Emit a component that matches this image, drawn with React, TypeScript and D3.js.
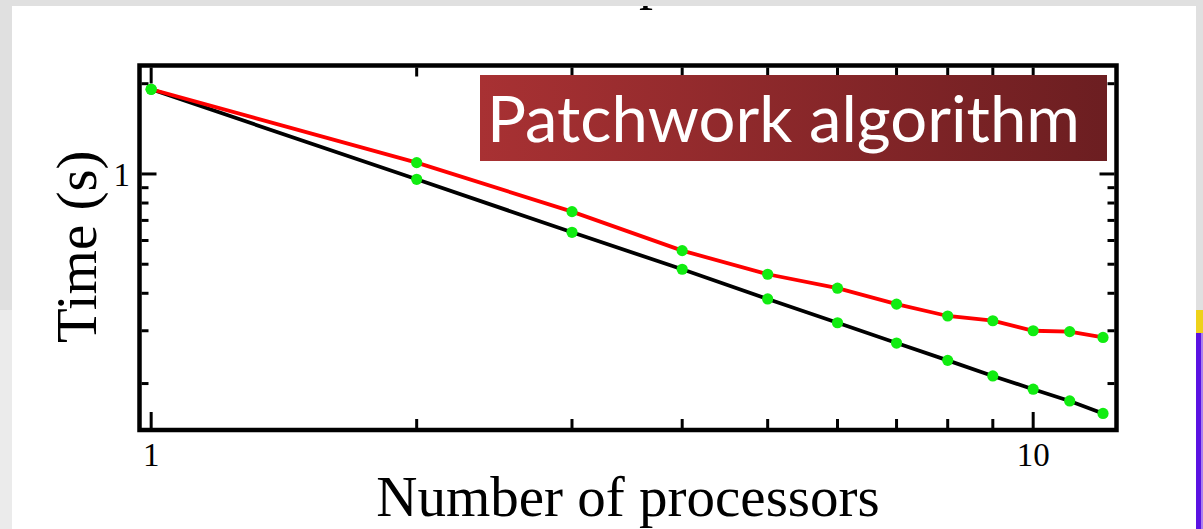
import React from "react";
import * as d3 from "d3";

// Number of processors used in each run
const processors = [1, 2, 3, 4, 5, 6, 7, 8, 9, 10, 11, 12];
// Ideal (linear-scaling) run time, seconds
const idealTimes = [1.916, 0.96, 0.639, 0.481, 0.383, 0.319, 0.273, 0.239, 0.212, 0.1915, 0.175, 0.159];
// Measured run time of the patchwork algorithm, seconds
const measuredTimes = [1.916, 1.091, 0.749, 0.555, 0.463, 0.416, 0.368, 0.336, 0.324, 0.3, 0.298, 0.285];

const xMajorTicks = [1, 10];
const xMinorTicks = [2, 3, 4, 5, 6, 7, 8, 9];
const yMajorTicks = [1];
const yMinorTicks = [0.2, 0.3, 0.4, 0.5, 0.6, 0.7, 0.8, 0.9, 2];

const W = 1203;
const H = 529;
const plot = { left: 139.5, right: 1116.5, top: 65.5, bottom: 430 };

const serif = "'Liberation Serif', 'Times New Roman', serif";

export default function App() {
  const x = d3.scaleLog().domain([0.97, 12.43]).range([plot.left, plot.right]);
  const y = d3.scaleLog().domain([0.14, 2.3]).range([plot.bottom, plot.top]);

  const line = d3
    .line<number>()
    .x((_, i) => x(processors[i]))
    .y((d) => y(d));

  const inner = 2; // half the frame stroke
  const xTick = (v: number, len: number, key: string) => (
    <g key={key}>
      <line x1={x(v)} x2={x(v)} y1={plot.bottom - inner} y2={plot.bottom - inner - len} />
      <line x1={x(v)} x2={x(v)} y1={plot.top + inner} y2={plot.top + inner + len} />
    </g>
  );
  const yTick = (v: number, len: number, key: string) => (
    <g key={key}>
      <line y1={y(v)} y2={y(v)} x1={plot.left + inner} x2={plot.left + inner + len} />
      <line y1={y(v)} y2={y(v)} x1={plot.right - inner} x2={plot.right - inner - len} />
    </g>
  );

  return (
    <svg
      width={W}
      height={H}
      viewBox={`0 0 ${W} ${H}`}
      style={{ position: "fixed", left: 0, top: 0, display: "block" }}
    >
      <defs>
        <clipPath id="panel-clip">
          <rect x={13} y={6} width={1183} height={H - 6} />
        </clipPath>
        <linearGradient id="badge-grad" x1="0" x2="1" y1="0" y2="0">
          <stop offset="0%" stopColor="#a83133" />
          <stop offset="100%" stopColor="#6c1e21" />
        </linearGradient>
      </defs>

      {/* slide surround */}
      <rect x={0} y={0} width={W} height={H} fill="#e0e0e0" />
      <rect x={0} y={310} width={12} height={H - 310} fill="#ebebeb" />
      <rect x={12} y={6} width={1184} height={H - 6} fill="#ffffff" />
      <rect x={1196} y={310} width={7} height={23} fill="#eed21a" />
      <rect x={1196} y={333} width={7} height={H - 333} fill="#5a12e2" />
      <rect x={1201} y={333} width={2} height={H - 333} fill="#a97ef0" />

      {/* title, cut off by the top of the panel */}
      <text
        x={653}
        y={-2}
        textAnchor="middle"
        fontFamily={serif}
        fontSize={56}
        fill="#000"
        clipPath="url(#panel-clip)"
      >
        p
      </text>

      {/* ticks */}
      <g stroke="#000" strokeWidth={3}>
        {xMajorTicks.map((v) => xTick(v, 16, `xM${v}`))}
        {xMinorTicks.map((v) => xTick(v, 9, `xm${v}`))}
        {yMajorTicks.map((v) => yTick(v, 15, `yM${v}`))}
        {yMinorTicks.map((v) => yTick(v, 7, `ym${v}`))}
      </g>

      {/* data lines */}
      <path d={line(idealTimes) ?? ""} fill="none" stroke="#000" strokeWidth={3.8} />
      <path d={line(measuredTimes) ?? ""} fill="none" stroke="#ff0000" strokeWidth={3.8} />
      <g fill="#11ec11">
        {idealTimes.map((d, i) => (
          <circle key={`i${i}`} cx={x(processors[i])} cy={y(d)} r={5.6} />
        ))}
        {measuredTimes.map((d, i) => (
          <circle key={`m${i}`} cx={x(processors[i])} cy={y(d)} r={5.6} />
        ))}
      </g>

      {/* frame */}
      <rect
        x={plot.left}
        y={plot.top}
        width={plot.right - plot.left}
        height={plot.bottom - plot.top}
        fill="none"
        stroke="#000"
        strokeWidth={4.5}
      />

      {/* tick labels */}
      <g fontFamily={serif} fontSize={33} fill="#000">
        {xMajorTicks.map((v) => (
          <text key={`xl${v}`} x={x(v)} y={466} textAnchor="middle">
            {d3.format("d")(v)}
          </text>
        ))}
        {yMajorTicks.map((v) => (
          <text key={`yl${v}`} x={130} y={y(v) + 12} textAnchor="end">
            {d3.format("d")(v)}
          </text>
        ))}
      </g>

      {/* axis titles */}
      <text
        x={(plot.left + plot.right) / 2}
        y={516}
        textAnchor="middle"
        fontFamily={serif}
        fontSize={57}
        fill="#000"
      >
        Number of processors
      </text>
      <text
        transform={`translate(96, ${(plot.top + plot.bottom) / 2 - 1}) rotate(-90)`}
        textAnchor="middle"
        fontFamily={serif}
        fontSize={57}
        fill="#000"
      >
        Time (s)
      </text>

      {/* badge */}
      <rect x={480} y={75} width={627} height={86} fill="url(#badge-grad)" />
      <text
        x={487}
        y={142}
        fontFamily="Lato, 'Open Sans', sans-serif"
        fontSize={64}
        fill="#ffffff"
        textLength={593}
        lengthAdjust="spacingAndGlyphs"
      >
        Patchwork algorithm
      </text>
    </svg>
  );
}
